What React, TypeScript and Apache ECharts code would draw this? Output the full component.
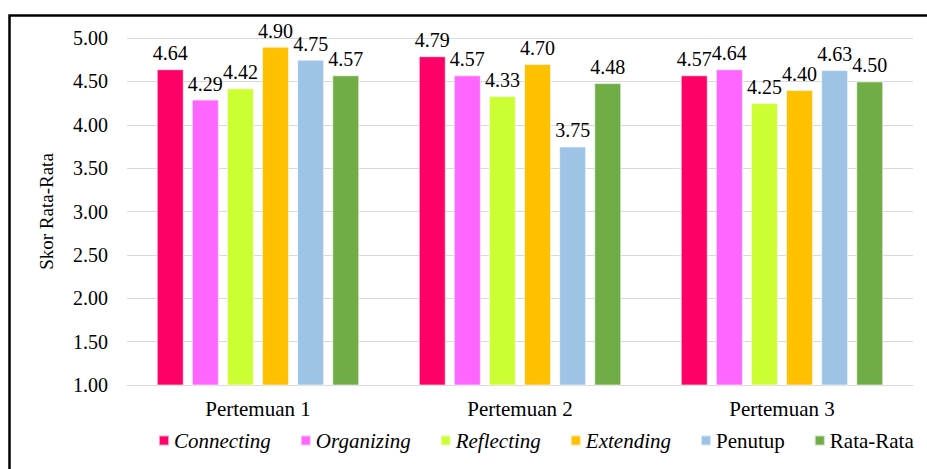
import React, { useEffect, useRef } from "react";
import * as echarts from "echarts";

const categories = ["Pertemuan 1", "Pertemuan 2", "Pertemuan 3"];
const seriesNames = ["Connecting", "Organizing", "Reflecting", "Extending", "Penutup", "Rata-Rata"];
const italicNames = ["Connecting", "Organizing", "Reflecting", "Extending"];
const connecting = [4.64, 4.79, 4.57];
const organizing = [4.29, 4.57, 4.64];
const reflecting = [4.42, 4.33, 4.25];
const extending = [4.9, 4.7, 4.4];
const penutup = [4.75, 3.75, 4.63];
const rataRata = [4.57, 4.48, 4.5];
const colors = ["#ff0066", "#ff66ff", "#ccff33", "#ffc000", "#9dc3e6", "#70ad47"];

const FONT = "Liberation Serif";

export default function App() {
  const ref = useRef<HTMLDivElement>(null);
  useEffect(() => {
    if (!ref.current) return;
    const chart = echarts.init(ref.current, undefined, { renderer: "svg" });
    const values = [connecting, organizing, reflecting, extending, penutup, rataRata];
    chart.setOption({
      animation: false,
      backgroundColor: "#ffffff",
      color: colors,
      textStyle: { fontFamily: FONT },
      graphic: [
        {
          type: "rect",
          shape: { x: 9.5, y: 15.5, width: 940, height: 480 },
          style: { fill: "none", stroke: "#000", lineWidth: 2.5 },
          silent: true,
        },
      ],
      grid: { left: 127, right: 14, top: 38, bottom: 84 },
      xAxis: {
        type: "category",
        data: categories,
        axisTick: { show: false },
        axisLine: { show: true, lineStyle: { color: "#d9d9d9" } },
        axisLabel: { color: "#000", fontFamily: FONT, fontSize: 21, margin: 13 },
      },
      yAxis: {
        type: "value",
        min: 1,
        max: 5,
        interval: 0.5,
        name: "Skor Rata-Rata",
        nameLocation: "middle",
        nameGap: 71,
        nameRotate: 90,
        nameTextStyle: { color: "#000", fontFamily: FONT, fontSize: 19 },
        axisLine: { show: false },
        axisTick: { show: false },
        splitLine: { lineStyle: { color: "#d9d9d9" } },
        axisLabel: {
          color: "#000",
          fontFamily: FONT,
          fontSize: 20,
          margin: 19,
          formatter: (v: number) => v.toFixed(2),
        },
      },
      legend: {
        top: 425,
        left: 153,
        itemWidth: 10,
        itemHeight: 10,
        itemGap: 29,
        icon: "rect",
        data: seriesNames,
        formatter: (name: string) =>
          italicNames.includes(name) ? `{i|${name}}` : `{n|${name}}`,
        textStyle: {
          color: "#000",
          fontFamily: FONT,
          fontSize: 21,
          rich: {
            i: { fontStyle: "italic", fontFamily: FONT, fontSize: 21, color: "#000" },
            n: { fontFamily: FONT, fontSize: 21, color: "#000" },
          },
        },
      },
      series: seriesNames.map((name, i) => ({
        name,
        type: "bar",
        data: values[i],
        barWidth: 27,
        barGap: "30%",
        itemStyle: { color: colors[i], borderColor: "rgba(255,255,255,0.6)", borderWidth: 1 },
        label: {
          show: true,
          position: "top",
          distance: 6,
          color: "#000",
          fontFamily: FONT,
          fontSize: 20,
          formatter: (p: any) => Number(p.value).toFixed(2),
        },
      })),
    });
    return () => chart.dispose();
  }, []);
  return (
    <div
      ref={ref}
      style={{ position: "fixed", left: 0, top: 0, width: 927, height: 469 }}
    />
  );
}
